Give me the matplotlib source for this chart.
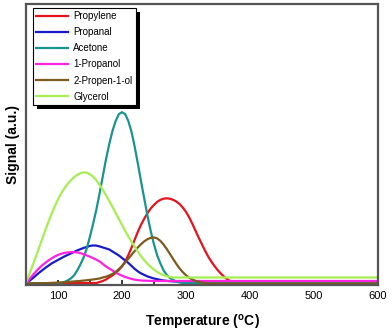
import matplotlib
matplotlib.use("Agg")
import matplotlib.pyplot as plt
from matplotlib.patches import Rectangle
from matplotlib.transforms import IdentityTransform

plt.rcParams['font.family'] = ['Liberation Sans', 'DejaVu Sans']

# ---------------- data ----------------
propylene_T = [50, 160, 165, 170, 175, 180, 185, 190, 195, 200, 205, 210, 215, 220, 225, 230, 235, 240,
               245, 250, 255, 260, 265, 270, 275, 280, 285, 290, 295, 300, 305, 310, 315, 320, 325,
               330, 335, 340, 345, 350, 355, 360, 365, 370, 375, 380, 600]
propylene_S = [0, 0.5, 1.5, 2.5, 4, 6, 8, 10.5, 13.5, 17, 22, 28.5, 36, 44, 52, 59, 65, 70.5,
               75, 78.5, 81.5, 83.5, 84.7, 85, 84.6, 83.5, 81.8, 79.3, 75.8, 71.5, 66, 59.5, 52.5, 45.5, 39,
               32.5, 26.5, 21.5, 17, 13, 9.5, 6.5, 4, 2, 0.6, 0, 0]

propanal_T = [50, 60, 70, 80, 90, 100, 110, 120, 130, 140, 150, 155, 160, 165, 170, 175, 180, 185,
              190, 195, 200, 205, 210, 215, 220, 225, 230, 235, 240, 245, 250, 255, 260, 265,
              270, 280, 290, 300, 320, 600]
propanal_S = [0, 5, 10.5, 15.5, 20, 23.5, 27, 30, 33, 35.5, 37.5, 38, 37.8, 37, 36, 35, 34, 32,
              30, 28, 25.5, 23, 20.5, 17.5, 14.5, 12, 10, 8.5, 7, 6, 5, 4.3, 3.6, 3,
              2.6, 2.1, 1.8, 1.6, 1.5, 1.5]

acetone_T = [50, 100, 105, 110, 115, 120, 125, 130, 135, 140, 145, 150, 155, 160, 165, 170, 175, 180,
             185, 190, 195, 200, 205, 210, 215, 220, 225, 230, 235, 240, 245, 250, 255, 260,
             265, 270, 275, 280, 285, 290, 295, 300, 600]
acetone_S = [0.3, 0.3, 0.5, 1.5, 3, 5, 8, 13, 19, 26, 35, 47, 60, 74, 90, 107, 124, 139,
             152, 162, 169, 171, 169, 162, 151, 136, 119, 101, 84, 67, 52, 39, 28, 20,
             13, 8.5, 5.5, 3.5, 2, 1, 0.5, 0.3, 0.3]

propanol_T = [50, 55, 60, 65, 70, 75, 80, 85, 90, 95, 100, 105, 110, 115, 120, 125, 130, 135,
              140, 145, 150, 155, 160, 165, 170, 175, 180, 185, 190, 195, 200, 205, 210, 215,
              220, 225, 230, 240, 250, 600]
propanol_S = [0, 4, 8, 11.5, 15, 18, 20.5, 23, 25, 27, 28.5, 29.7, 30.5, 31, 31.3, 31.3, 31, 30.3,
              29.3, 28, 26.7, 25.3, 23.7, 22, 19.5, 17, 15, 13, 11, 9.3, 7.8, 6.5, 5.5, 4.6,
              3.8, 3.3, 3, 2.7, 2.5, 2.5]

propenol_T = [50, 60, 70, 80, 90, 100, 110, 120, 130, 140, 150, 160, 165, 170, 175, 180, 185, 190,
              195, 200, 205, 210, 215, 220, 225, 230, 235, 240, 245, 250, 255, 260, 265, 270,
              275, 280, 285, 290, 295, 300, 305, 310, 315, 320, 325, 330, 335, 340, 600]
propenol_S = [0, 0.1, 0.2, 0.35, 0.6, 0.9, 1.3, 1.8, 2.3, 2.9, 3.6, 4.5, 5, 6, 6.8, 8, 9.5, 11.5,
              14.3, 17.5, 21, 24.8, 28.7, 32.5, 36.2, 39.4, 42.2, 44.3, 45.6, 46, 45, 42.5, 38.8, 34.4,
              29.4, 24.4, 19.5, 15, 11.4, 8.2, 5.8, 3.9, 2.6, 1.6, 1, 0.5, 0.2, 0, 0]

glycerol_T = [50, 55, 60, 65, 70, 75, 80, 85, 90, 95, 100, 105, 110, 115, 120, 125, 130, 135,
              140, 145, 150, 155, 160, 165, 170, 175, 180, 185, 190, 195, 200, 205, 210, 215,
              220, 225, 230, 235, 240, 245, 250, 255, 260, 265, 270, 275, 280, 600]
glycerol_S = [1, 9, 17.5, 26, 35, 44, 53, 61.5, 69.5, 77, 84, 90, 95, 99.5, 103, 106, 108.5, 110,
              111, 110.5, 109, 106.5, 103, 98.5, 93.5, 88, 82.5, 76.5, 70.5, 64.5, 58.5, 52.5, 47, 41.5,
              36.5, 31.5, 27, 23, 19.5, 16.5, 13.8, 11.5, 9.7, 8.3, 7.3, 6.5, 6, 6]

series_names = ["Propylene", "Propanal", "Acetone", "1-Propanol", "2-Propen-1-ol", "Glycerol"]
series_T = [propylene_T, propanal_T, acetone_T, propanol_T, propenol_T, glycerol_T]
series_S = [propylene_S, propanal_S, acetone_S, propanol_S, propenol_S, glycerol_S]
colors = ["#e3141b", "#1a1acd", "#1a9490", "#ff22e0", "#7d5a1e", "#a6ee52"]

x_major = [100, 200, 300, 400, 500, 600]
x_minor = [150, 250, 350, 450, 550]

# ---------------- figure ----------------
fig = plt.figure(figsize=(3.92, 3.33), dpi=100)
ax = fig.add_axes([26 / 392, (333 - 285) / 333, 352 / 392, 281 / 333])

for name, T, S, c in zip(series_names, series_T, series_S, colors):
    ax.plot(T, S, color=c, lw=1.6, label=name, solid_joinstyle='round')

ax.set_xlim(50, 600)
ax.set_ylim(-1.5, 279)
ax.set_xticks(x_major)
ax.set_xticks(x_minor, minor=True)
ax.set_yticks([])
ax.tick_params(axis='x', which='both', direction='in', length=3.5, width=1.1,
               labelsize=8, pad=4, color='black')

for sp in ax.spines.values():
    sp.set_color('#555555')
    sp.set_linewidth(1.6)

ax.set_xlabel("Temperature ($\\mathregular{^{o}}$C)", fontsize=10, fontweight='bold', labelpad=9)
ax.set_ylabel("Signal (a.u.)", fontsize=10, fontweight='bold', labelpad=4)

leg = ax.legend(loc='upper left', bbox_to_anchor=(7 / 352, 1 - 4 / 281), fontsize=7,
                frameon=True, fancybox=False, edgecolor='black', framealpha=1,
                handlelength=3.2, handletextpad=0.6, borderpad=0.35, labelspacing=0.62,
                borderaxespad=0)
leg.get_frame().set_linewidth(0.8)
leg.set_zorder(6)

fig.canvas.draw()
bb = leg.get_window_extent()
shadow = Rectangle((bb.x0 + 4, bb.y0 - 4), bb.width, bb.height, transform=IdentityTransform(),
                   facecolor='black', edgecolor='none', zorder=5, clip_on=False)
ax.add_patch(shadow)

fig.savefig("out.png", dpi=100)
